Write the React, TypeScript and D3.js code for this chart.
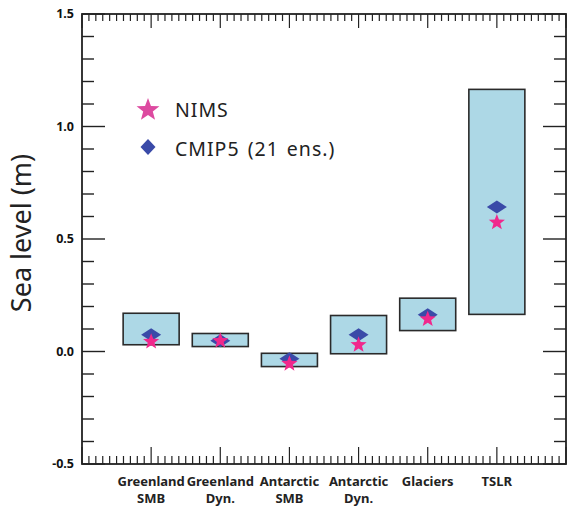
import React from "react";
import * as d3 from "d3";

const categories = [["Greenland", "SMB"], ["Greenland", "Dyn."], ["Antarctic", "SMB"], ["Antarctic", "Dyn."], ["Glaciers"], ["TSLR"]];
const rangeLow = [0.03, 0.022, -0.067, -0.01, 0.093, 0.165];
const rangeHigh = [0.17, 0.08, -0.008, 0.16, 0.237, 1.165];
const cmip5 = [0.075, 0.048, -0.032, 0.075, 0.163, 0.642];
const nims = [0.048, 0.052, -0.05, 0.034, 0.148, 0.578];
const yTickLabels = ["-0.5", "0.0", "0.5", "1.0", "1.5"];
const legendLabels = ["NIMS", "CMIP5 (21 ens.)"];

const W = 573, H = 507;
const L = 82, R = 566, T = 14, B = 464;
const FONT = "'Noto Sans', 'Open Sans', sans-serif";
const PINK = "#f0288c";
const BLUE = "#3a4aa8";

function starPath(R0: number) {
  const pts: [number, number][] = [];
  for (let i = 0; i < 10; i++) {
    const r = i % 2 === 0 ? R0 : R0 * 0.42;
    const a = -Math.PI / 2 + (i * Math.PI) / 5;
    pts.push([r * Math.cos(a), r * Math.sin(a)]);
  }
  return d3.line()(pts) + "Z";
}
function diamondPath(w: number, h: number) {
  return d3.line()([[0, -h / 2], [w / 2, 0], [0, h / 2], [-w / 2, 0]]) + "Z";
}

export default function App() {
  const x = d3.scaleLinear().domain([0, 7]).range([L, R]);
  const y = d3.scaleLinear().domain([-0.5, 1.5]).range([B, T]);
  const band = 0.81;

  const yMinor = d3.range(-5, 16).map((d) => d / 10);
  const xMinor = d3.range(0, 71).map((d) => d / 10);

  return (
    <svg width={W} height={H} style={{ position: "absolute", left: 0, top: 0, background: "#fff" }}>
      {/* bars */}
      {categories.map((c, i) => (
        <rect key={"b" + i}
          x={x(i + 1 - band / 2)} width={x(band) - x(0)}
          y={y(rangeHigh[i])} height={y(rangeLow[i]) - y(rangeHigh[i])}
          fill="#add8e6" stroke="#2a2a2a" strokeWidth={1.6} />
      ))}
      {cmip5.map((v, i) => (
        <path key={"d" + i} d={diamondPath(20, 13)} transform={`translate(${x(i + 1)},${y(v)})`} fill={BLUE} />
      ))}
      {nims.map((v, i) => (
        <path key={"s" + i} d={starPath(8.5)} transform={`translate(${x(i + 1)},${y(v) + 1})`} fill={PINK} />
      ))}

      {/* y ticks */}
      {yMinor.map((v, i) => {
        const major = Math.abs(Math.round(v * 10) % 5) === 0;
        const len = major ? 23 : 12;
        return (
          <g key={"yt" + i}>
            <line x1={L} x2={L + len} y1={y(v)} y2={y(v)} stroke="#222" strokeWidth={1.4} />
            <line x1={R} x2={R - len} y1={y(v)} y2={y(v)} stroke="#222" strokeWidth={1.4} />
          </g>
        );
      })}
      {xMinor.map((v, i) => {
        const major = Math.round(v * 10) % 10 === 0;
        return (
          <g key={"xt" + i}>
            <line x1={x(v)} x2={x(v)} y1={B} y2={B - (major ? 17 : 8)} stroke="#222" strokeWidth={1.2} />
            <line x1={x(v)} x2={x(v)} y1={T} y2={T + (major ? 14 : 7)} stroke="#222" strokeWidth={1.2} />
          </g>
        );
      })}
      <rect x={L} y={T} width={R - L} height={B - T} fill="none" stroke="#222" strokeWidth={1.8} />

      {/* y tick labels */}
      {yTickLabels.map((t) => (
        <text key={t} x={L - 8} y={y(+t)} dy="0.35em" textAnchor="end" fontFamily={FONT} fontWeight="bold" fontSize={12.5} fill="#111">{t}</text>
      ))}
      <text transform={`translate(31,${y(0.5) - 6}) rotate(-90)`} textAnchor="middle" fontFamily={FONT} fontSize={27} fill="#222">Sea level (m)</text>

      {/* category labels */}
      {categories.map((c, i) => (
        <text key={"c" + i} x={x(i + 1)} y={486} textAnchor="middle" fontFamily={FONT} fontWeight="bold" fontSize={13} fill="#222">
          {c.map((line, j) => (
            <tspan key={j} x={x(i + 1)} dy={j === 0 ? 0 : 17}>{line}</tspan>
          ))}
        </text>
      ))}

      {/* legend */}
      <path d={starPath(12)} transform="translate(148,110)" fill="#dd4aa0" />
      <text x={175} y={117} fontFamily={FONT} fontSize={19.5} letterSpacing={1} fill="#222">{legendLabels[0]}</text>
      <path d={diamondPath(15, 16)} transform="translate(148,147)" fill={BLUE} />
      <text x={175} y={156} fontFamily={FONT} fontSize={19.5} letterSpacing={1} wordSpacing={2} fill="#222">{legendLabels[1]}</text>
    </svg>
  );
}
